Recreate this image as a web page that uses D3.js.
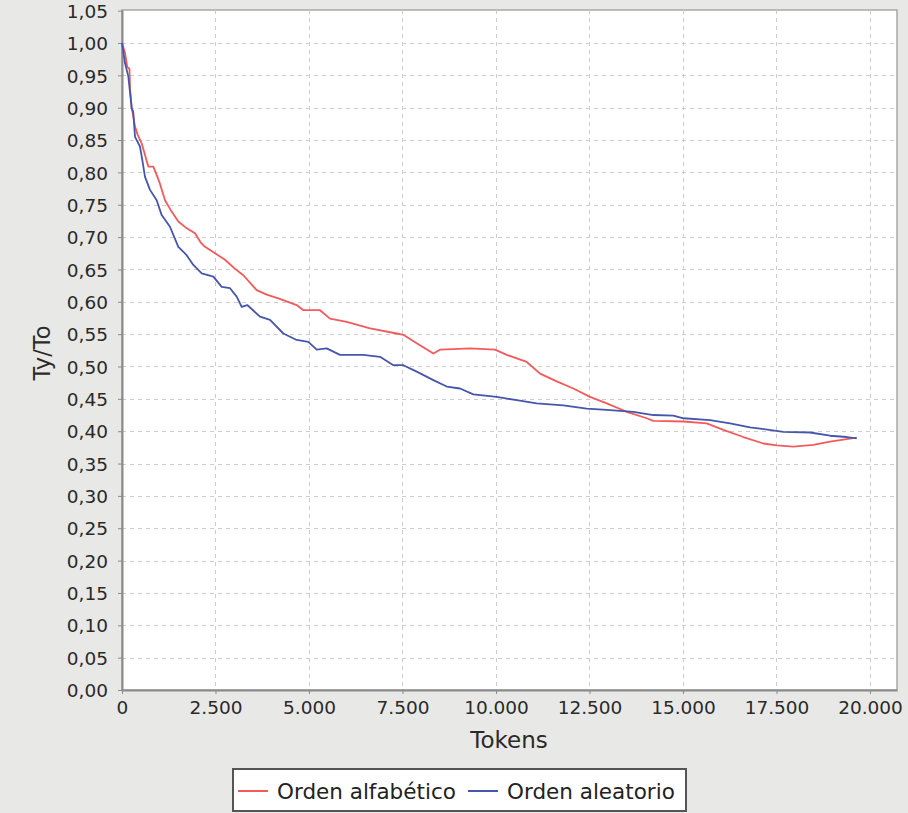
<!DOCTYPE html>
<html>
<head>
<meta charset="utf-8">
<script src="https://cdn.jsdelivr.net/npm/d3@7"></script>
<style>
  html, body { margin: 0; padding: 0; background: #e8e9e6; }
  svg { display: block; font-family: "DejaVu Sans", sans-serif; }
</style>
</head>
<body>
<div id="chart"></div>
<script>
// series: Orden alfabético (red)
var tokensAlfa = [0, 80, 140, 200, 214, 260, 348, 420, 526, 600, 703, 837, 900, 1000, 1150, 1300, 1506, 1700, 1952, 2100,
  2220, 2487, 2754, 3000, 3244, 3601, 3869, 4200, 4671, 4849, 5294, 5562, 6008, 6632, 7345, 7523, 7880, 8325, 8504, 8860,
  9306, 9974, 10287, 10822, 11178, 11624, 12068, 12514, 12961, 13496, 14030, 14207, 15010, 15634, 16079, 16614, 17149,
  17506, 17952, 18486, 18932, 19288, 19644];
var ratioAlfa = [1.000, 0.985, 0.963, 0.960, 0.930, 0.900, 0.871, 0.858, 0.845, 0.830, 0.809, 0.809, 0.800, 0.785, 0.757,
  0.742, 0.724, 0.715, 0.706, 0.692, 0.685, 0.675, 0.665, 0.652, 0.641, 0.618, 0.611, 0.605, 0.595, 0.587, 0.587, 0.574,
  0.569, 0.559, 0.551, 0.549, 0.536, 0.520, 0.526, 0.527, 0.528, 0.526, 0.518, 0.507, 0.489, 0.477, 0.466, 0.453, 0.443,
  0.430, 0.420, 0.416, 0.415, 0.412, 0.402, 0.391, 0.381, 0.378, 0.376, 0.379, 0.384, 0.387, 0.390];

// series: Orden aleatorio (blue)
var tokensAlea = [0, 80, 170, 259, 300, 348, 481, 540, 615, 749, 927, 1061, 1283, 1506, 1729, 1907, 2131, 2442, 2666, 2888,
  3067, 3200, 3350, 3690, 3958, 4314, 4671, 4982, 5206, 5473, 5829, 6453, 6899, 7256, 7523, 7880, 8325, 8682, 9038, 9394,
  10019, 10554, 11089, 11802, 12425, 12961, 13674, 14207, 14742, 15010, 15723, 16257, 16792, 17684, 18397, 18932, 19377, 19644];
var ratioAlea = [1.000, 0.969, 0.948, 0.899, 0.894, 0.855, 0.840, 0.820, 0.793, 0.773, 0.757, 0.734, 0.716, 0.685, 0.672,
  0.657, 0.644, 0.639, 0.623, 0.621, 0.608, 0.592, 0.595, 0.577, 0.572, 0.551, 0.541, 0.538, 0.526, 0.528, 0.518, 0.518,
  0.515, 0.502, 0.502, 0.492, 0.479, 0.469, 0.466, 0.457, 0.453, 0.448, 0.443, 0.440, 0.435, 0.433, 0.430, 0.425, 0.424,
  0.420, 0.417, 0.412, 0.406, 0.399, 0.398, 0.393, 0.391, 0.389];

var xTicks = [0, 2500, 5000, 7500, 10000, 12500, 15000, 17500, 20000];
var yTicks = d3.range(0, 22).map(function (i) { return i * 0.05; });
var seriesNames = ['Orden alfabético', 'Orden aleatorio'];
var seriesColors = ['#f45a5a', '#4656ac'];

(function () {
    var width = 908, height = 813,
        plotLeft = 122, plotRight = 897, plotTop = 10, plotBottom = 690;

    var svg = d3.select('#chart').append('svg')
        .attr('width', width)
        .attr('height', height);

    svg.append('rect').attr('width', width).attr('height', height).attr('fill', '#e8e9e6');

    var x = d3.scaleLinear().domain([0, 20722]).range([plotLeft, plotRight]);
    var y = d3.scaleLinear().domain([0, 1.051]).range([plotBottom, plotTop]);

    // plot area
    svg.append('rect')
        .attr('x', plotLeft).attr('y', plotTop)
        .attr('width', plotRight - plotLeft).attr('height', plotBottom - plotTop)
        .attr('fill', '#ffffff')
        .attr('stroke', '#a8a8a8')
        .attr('stroke-width', 1.5);

    // grid
    var grid = svg.append('g').attr('stroke', '#cccccc').attr('stroke-width', 1).attr('stroke-dasharray', '4,4');
    grid.selectAll('line.gx').data(xTicks.slice(1)).enter().append('line')
        .attr('x1', function (d) { return Math.round(x(d)) + 0.5; })
        .attr('x2', function (d) { return Math.round(x(d)) + 0.5; })
        .attr('y1', plotTop).attr('y2', plotBottom);
    grid.selectAll('line.gy').data(yTicks.slice(1, 21)).enter().append('line')
        .attr('y1', function (d) { return Math.round(y(d)) + 0.5; })
        .attr('y2', function (d) { return Math.round(y(d)) + 0.5; })
        .attr('x1', plotLeft).attr('x2', plotRight);

    // axes
    var fmtX = function (d) { return d3.format(',')(d).replace(/,/g, '.'); };
    var fmtY = function (d) { return d3.format('.2f')(d).replace('.', ','); };

    var xAxis = svg.append('g')
        .attr('transform', 'translate(0,' + plotBottom + ')')
        .call(d3.axisBottom(x).tickValues(xTicks).tickFormat(fmtX).tickSizeInner(4).tickSizeOuter(0).tickPadding(7));
    var yAxis = svg.append('g')
        .attr('transform', 'translate(' + plotLeft + ',0)')
        .call(d3.axisLeft(y).tickValues(yTicks).tickFormat(fmtY).tickSizeInner(4).tickSizeOuter(0).tickPadding(10));

    [xAxis, yAxis].forEach(function (a) {
        a.select('.domain').attr('stroke', '#8a8a8a').attr('stroke-width', 2);
        a.selectAll('.tick line').attr('stroke', '#8a8a8a');
        a.selectAll('.tick text')
            .attr('fill', '#2a2a2a')
            .style('font-size', '18.5px')
            .style('font-family', '"DejaVu Sans", sans-serif');
    });
    yAxis.selectAll('.tick text').attr('dy', '0.36em');

    // axis labels
    svg.append('text')
        .attr('x', 509).attr('y', 748)
        .attr('text-anchor', 'middle')
        .style('font-size', '23px').attr('fill', '#2a2a2a')
        .text('Tokens');
    svg.append('text')
        .attr('transform', 'translate(50,353) rotate(-90)')
        .attr('text-anchor', 'middle')
        .style('font-size', '22.5px').attr('fill', '#2a2a2a')
        .text('Ty/To');

    // lines
    var line = d3.line()
        .x(function (d) { return x(d[0]); })
        .y(function (d) { return y(d[1]); });

    var series = [d3.zip(tokensAlfa, ratioAlfa), d3.zip(tokensAlea, ratioAlea)];
    svg.selectAll('path.serie').data(series).enter().append('path')
        .attr('class', 'serie')
        .attr('d', line)
        .attr('fill', 'none')
        .attr('stroke', function (d, i) { return seriesColors[i]; })
        .attr('stroke-width', 1.8)
        .attr('stroke-linejoin', 'round');

    // legend
    var legend = svg.append('g');
    legend.append('rect')
        .attr('x', 233).attr('y', 769).attr('width', 453).attr('height', 42)
        .attr('fill', '#fff').attr('stroke', '#555').attr('stroke-width', 2);
    var legendX = [238, 468];
    seriesNames.forEach(function (name, i) {
        legend.append('line')
            .attr('x1', legendX[i]).attr('x2', legendX[i] + 30)
            .attr('y1', 791).attr('y2', 791)
            .attr('stroke', seriesColors[i]).attr('stroke-width', 2);
        legend.append('text')
            .attr('x', legendX[i] + 39).attr('y', 799)
            .style('font-size', '21.5px').attr('fill', '#222')
            .text(name);
    });
})();
</script>
</body>
</html>
